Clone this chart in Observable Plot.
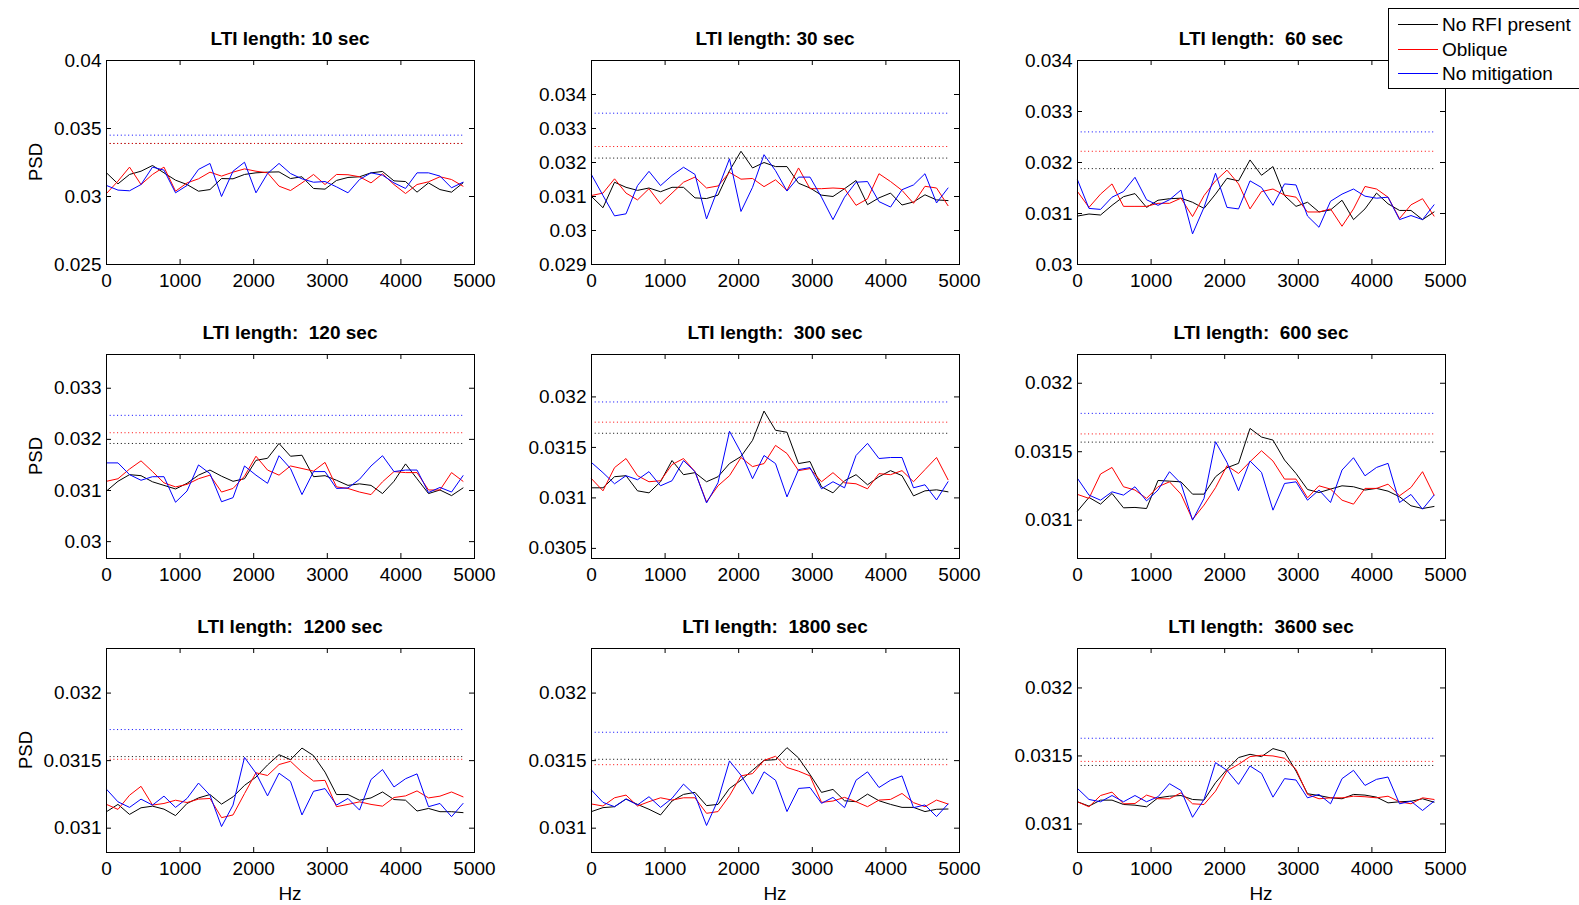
<!DOCTYPE html>
<html><head><meta charset="utf-8">
<script src="https://cdn.jsdelivr.net/npm/d3@7"></script>
<script src="https://cdn.jsdelivr.net/npm/@observablehq/plot@0.6"></script>
<style>
html,body{margin:0;padding:0;background:#fff;}
body{width:1579px;height:905px;overflow:hidden;position:relative;font-family:"Liberation Sans",Arial,Helvetica,sans-serif;color:#000;}
.abs{position:absolute;}
.title{font-weight:bold;font-size:19px;white-space:pre;transform:translate(-50%,-50%);line-height:1;}
.ylab{font-size:18.5px;transform:translate(-50%,-50%) rotate(-90deg);line-height:1;white-space:pre;}
.xlab{font-size:19px;transform:translate(-50%,-50%);line-height:1;}
#legend{left:1388px;top:8px;width:200px;height:79px;border:1px solid #000;background:#fff;z-index:10;}
#legend .sw{position:absolute;left:9px;width:40px;height:1px;}
#legend .lt{position:absolute;left:53px;font-size:19px;line-height:1;transform:translateY(-50%);white-space:pre;}
</style></head>
<body><div id="root"></div>
<script>
// frequency bins (Hz)
const hz = [0,156,313,469,625,781,938,1094,1250,1406,1563,1719,1875,2031,2188,2344,2500,2656,2813,2969,3125,3281,3438,3594,3750,3906,4063,4219,4375,4531,4688,4844];

const titles = ["LTI length: 10 sec","LTI length: 30 sec","LTI length:  60 sec","LTI length:  120 sec","LTI length:  300 sec","LTI length:  600 sec","LTI length:  1200 sec","LTI length:  1800 sec","LTI length:  3600 sec"];
const seriesNames = ["No RFI present","Oblique","No mitigation"];
const seriesColors = ["#000000","#ff0000","#0000ff"];

// 10 sec
const noRfi10 = [0.03174,0.03093,0.03162,0.03186,0.03228,0.03174,0.0312,0.03088,0.03039,0.03051,0.03132,0.0313,0.03162,0.03174,0.03179,0.03181,0.03132,0.03145,0.03059,0.03054,0.03118,0.0314,0.03145,0.03174,0.03184,0.03115,0.0311,0.03032,0.031,0.03051,0.03032,0.031];
const oblique10 = [0.03022,0.03113,0.03216,0.03088,0.03162,0.03216,0.03039,0.031,0.0313,0.03179,0.0315,0.03179,0.03203,0.03186,0.03174,0.03076,0.03044,0.031,0.03162,0.03088,0.03162,0.0316,0.03145,0.031,0.03167,0.03088,0.03022,0.03088,0.03108,0.03145,0.03125,0.03076];
const noMit10 = [0.03081,0.03047,0.03042,0.03088,0.03216,0.03194,0.03027,0.03081,0.03199,0.03243,0.03,0.03186,0.03252,0.03027,0.03169,0.03243,0.03169,0.0313,0.03105,0.0311,0.03071,0.03027,0.03125,0.03174,0.03157,0.031,0.03059,0.03174,0.03174,0.0315,0.03064,0.03105];
// 30 sec
const noRfi30 = [0.031,0.03067,0.03142,0.03127,0.03118,0.03125,0.03114,0.03127,0.03127,0.03096,0.03094,0.03104,0.03176,0.03233,0.03184,0.032,0.03188,0.03188,0.03139,0.03125,0.03104,0.031,0.03123,0.03147,0.03076,0.03096,0.0311,0.03075,0.03084,0.03105,0.0309,0.03088];
const oblique30 = [0.03103,0.0311,0.03152,0.0311,0.0309,0.03123,0.03078,0.0311,0.03142,0.03157,0.03125,0.03131,0.03171,0.03151,0.03153,0.03129,0.03149,0.03118,0.03184,0.03123,0.03123,0.03125,0.03123,0.03074,0.03093,0.03167,0.03144,0.03118,0.0308,0.0313,0.03125,0.03073];
const noMit30 = [0.03164,0.03103,0.03043,0.03049,0.03132,0.03174,0.03132,0.03162,0.03186,0.03165,0.03034,0.03123,0.03211,0.03056,0.03127,0.03223,0.03176,0.03116,0.03157,0.03157,0.03098,0.03032,0.03098,0.03142,0.03144,0.03085,0.03069,0.0312,0.03134,0.03167,0.03081,0.03125];
// 60 sec
const noRfi60 = [0.03095,0.03099,0.03097,0.03116,0.03133,0.03139,0.03112,0.03126,0.03129,0.0313,0.03122,0.0311,0.03138,0.03169,0.03164,0.03205,0.03175,0.03192,0.03135,0.03114,0.03122,0.03103,0.03107,0.03126,0.03088,0.03109,0.0314,0.03119,0.03106,0.03106,0.03088,0.03103];
const oblique60 = [0.03143,0.03112,0.03138,0.03158,0.03114,0.03114,0.03114,0.0312,0.0312,0.0313,0.03094,0.03135,0.03164,0.03185,0.03158,0.03109,0.03143,0.03148,0.03136,0.03132,0.03103,0.03103,0.03109,0.03075,0.03109,0.03153,0.03148,0.03132,0.0309,0.03117,0.03129,0.03095];
const noMit60 = [0.03166,0.0311,0.03108,0.03132,0.03143,0.03171,0.03127,0.03116,0.03127,0.03146,0.0306,0.03112,0.03179,0.03112,0.03109,0.03164,0.03151,0.03116,0.03158,0.03156,0.03095,0.03073,0.03124,0.03138,0.03148,0.03134,0.0313,0.03132,0.03088,0.03096,0.03088,0.03117];
// 120 sec
const noRfi120 = [0.03099,0.03118,0.03131,0.03129,0.03117,0.0311,0.03103,0.03114,0.0313,0.0314,0.03128,0.03118,0.03123,0.03159,0.03163,0.03192,0.03167,0.03169,0.03127,0.03129,0.0312,0.0311,0.03113,0.0311,0.03094,0.03118,0.03152,0.03123,0.03094,0.03101,0.0309,0.03105];
const oblique120 = [0.03118,0.03123,0.03142,0.03158,0.03137,0.03115,0.03107,0.03112,0.03123,0.0313,0.03097,0.03104,0.03128,0.03167,0.0314,0.0313,0.03148,0.03143,0.03138,0.03155,0.03107,0.03104,0.03097,0.03092,0.03117,0.03137,0.03135,0.03135,0.03101,0.03101,0.03135,0.03118];
const noMit120 = [0.03154,0.03154,0.03131,0.0312,0.03127,0.03127,0.03077,0.03099,0.0315,0.03133,0.03078,0.03086,0.03148,0.0313,0.03114,0.03168,0.03143,0.03092,0.03137,0.03137,0.03104,0.03105,0.03122,0.03148,0.03168,0.03137,0.0314,0.0314,0.03096,0.03106,0.03097,0.03129];
// 300 sec
const noRfi300 = [0.0311,0.0311,0.03121,0.03122,0.03107,0.03105,0.03116,0.03137,0.03123,0.03125,0.03116,0.03121,0.03134,0.03141,0.03157,0.03186,0.03167,0.03165,0.03134,0.03136,0.03111,0.03105,0.03117,0.03123,0.03113,0.03121,0.03127,0.03122,0.03102,0.03107,0.03108,0.03106];
const oblique300 = [0.03119,0.03107,0.0313,0.03139,0.03122,0.03116,0.03117,0.03133,0.03139,0.03126,0.03096,0.03112,0.03122,0.0314,0.03131,0.03134,0.03152,0.03144,0.03127,0.03129,0.03116,0.03125,0.03115,0.03114,0.03109,0.03124,0.03123,0.03127,0.03116,0.03128,0.0314,0.03118];
const noMit300 = [0.03135,0.03125,0.03114,0.03122,0.03118,0.03126,0.03112,0.03117,0.03137,0.03126,0.03095,0.03115,0.03166,0.03145,0.03119,0.03142,0.03134,0.03101,0.03128,0.0313,0.03109,0.03116,0.0311,0.03142,0.03154,0.03139,0.0314,0.0314,0.0311,0.03113,0.03098,0.03116];
// 600 sec
const noRfi600 = [0.031066,0.031166,0.031117,0.031195,0.03109,0.031093,0.031085,0.03129,0.031285,0.03128,0.03119,0.03119,0.031317,0.031383,0.031415,0.03167,0.031607,0.031585,0.031439,0.031341,0.031224,0.031202,0.031227,0.031251,0.031244,0.03122,0.031232,0.031212,0.031171,0.031105,0.031085,0.0311];
const oblique600 = [0.031188,0.031159,0.031337,0.031385,0.031244,0.03122,0.031159,0.031244,0.03128,0.03119,0.031005,0.03111,0.031237,0.031398,0.031341,0.031427,0.031507,0.031432,0.0313,0.0313,0.031163,0.031251,0.031227,0.031146,0.031117,0.031232,0.031232,0.031263,0.031178,0.031239,0.031354,0.031183];
const noMit600 = [0.031305,0.031183,0.031146,0.031207,0.031183,0.031244,0.031141,0.03122,0.031354,0.031268,0.031,0.031159,0.031573,0.031422,0.031215,0.031432,0.031349,0.031073,0.031268,0.03128,0.031146,0.03122,0.031129,0.031366,0.031456,0.031324,0.031385,0.031415,0.031129,0.031188,0.03108,0.031183];
// 1200 sec
const noRfi1200 = [0.031122,0.031176,0.031102,0.031151,0.031163,0.031141,0.031093,0.031183,0.031224,0.031249,0.031178,0.031232,0.031317,0.031378,0.031468,0.031544,0.031507,0.031593,0.031537,0.031415,0.031249,0.031249,0.031207,0.031224,0.031268,0.031212,0.031207,0.031127,0.031146,0.031122,0.031122,0.031115];
const oblique1200 = [0.031176,0.031139,0.031244,0.03131,0.031171,0.031183,0.031207,0.03119,0.031215,0.03122,0.031078,0.031098,0.031256,0.03141,0.03139,0.031471,0.031495,0.031415,0.031349,0.031354,0.031159,0.031176,0.031195,0.031176,0.031163,0.031227,0.031239,0.031276,0.031224,0.031237,0.031268,0.031232];
const noMit1200 = [0.031288,0.031195,0.031154,0.031215,0.031171,0.031237,0.031154,0.03122,0.031334,0.031244,0.031012,0.031171,0.031524,0.031407,0.031239,0.031407,0.031346,0.031098,0.031273,0.031293,0.031171,0.03122,0.031134,0.03136,0.031434,0.031305,0.031366,0.031402,0.031159,0.031183,0.031085,0.031183];
// 1800 sec
const noRfi1800 = [0.031123,0.031152,0.031159,0.031216,0.031176,0.03114,0.031098,0.031201,0.03125,0.031265,0.031167,0.031176,0.031294,0.031355,0.031429,0.031502,0.031507,0.031596,0.03152,0.031397,0.031265,0.031287,0.031203,0.031196,0.031252,0.031203,0.031176,0.031154,0.031154,0.031123,0.03114,0.031142];
const oblique1800 = [0.031179,0.031164,0.031225,0.031245,0.031164,0.031196,0.031225,0.031208,0.031225,0.031225,0.03111,0.031123,0.03124,0.031387,0.031404,0.031502,0.031532,0.031449,0.031422,0.031387,0.031191,0.031201,0.031228,0.031196,0.031159,0.031208,0.031213,0.031257,0.031189,0.031159,0.031208,0.031179];
const noMit1800 = [0.031282,0.031191,0.031159,0.031216,0.031172,0.031233,0.031154,0.031221,0.031326,0.031245,0.03102,0.031208,0.031498,0.031392,0.031252,0.031417,0.031355,0.031123,0.031294,0.031301,0.031184,0.031228,0.031152,0.031355,0.031417,0.031301,0.031355,0.031387,0.031152,0.031172,0.031086,0.031179];
// 3600 sec
const noRfi3600 = [0.031163,0.031131,0.031175,0.031175,0.031143,0.031138,0.031126,0.031192,0.031204,0.031209,0.03118,0.031175,0.031303,0.031401,0.031488,0.031512,0.031495,0.031554,0.03153,0.031389,0.031222,0.031209,0.031192,0.031185,0.031217,0.031212,0.031197,0.031155,0.031163,0.031167,0.031185,0.03116];
const oblique3600 = [0.031163,0.031126,0.031209,0.031234,0.031148,0.03115,0.031212,0.031185,0.031185,0.031229,0.031148,0.031143,0.031241,0.031389,0.031438,0.031495,0.031505,0.0315,0.031483,0.031401,0.031217,0.031185,0.031192,0.031192,0.031204,0.0312,0.031192,0.031204,0.031163,0.031148,0.031192,0.03118];
const noMit3600 = [0.031261,0.03118,0.031163,0.031209,0.031163,0.031209,0.031163,0.0312,0.031296,0.031246,0.031049,0.03118,0.031451,0.031394,0.031291,0.031426,0.031372,0.031197,0.031333,0.031323,0.031192,0.031217,0.031148,0.031333,0.031394,0.031283,0.031328,0.031345,0.031148,0.031167,0.031099,0.031167];

// threshold (dotted) levels per panel
const thrNoRfi = [0.0339,0.03213,0.03188,0.03192,0.03164,0.03157,0.03153,0.03151,0.03143];
const thrOblique = [0.0339,0.03247,0.03222,0.03213,0.03175,0.03163,0.03151,0.03147,0.03146];
const thrNoMit = [0.03451,0.03345,0.0326,0.03247,0.03195,0.03178,0.03173,0.03171,0.03163];

// axes
const yMin = [0.025,0.029,0.030,0.02967,0.0304,0.03072,0.03082,0.03082,0.03079];
const yMax = [0.040,0.035,0.034,0.03366,0.03242,0.03221,0.03233,0.03233,0.03229];
const yTicks = [
  [0.025,0.03,0.035,0.04],
  [0.029,0.03,0.031,0.032,0.033,0.034],
  [0.03,0.031,0.032,0.033,0.034],
  [0.03,0.031,0.032,0.033],
  [0.0305,0.031,0.0315,0.032],
  [0.031,0.0315,0.032],
  [0.031,0.0315,0.032],
  [0.031,0.0315,0.032],
  [0.031,0.0315,0.032]
];
const xTicks = [0,1000,2000,3000,4000,5000];

const lineData = [
  [noRfi10,noRfi30,noRfi60,noRfi120,noRfi300,noRfi600,noRfi1200,noRfi1800,noRfi3600],
  [oblique10,oblique30,oblique60,oblique120,oblique300,oblique600,oblique1200,oblique1800,oblique3600],
  [noMit10,noMit30,noMit60,noMit120,noMit300,noMit600,noMit1200,noMit1800,noMit3600]
];
const thrData = [thrNoRfi, thrOblique, thrNoMit];

const FONT = '"Liberation Sans", Arial, Helvetica, sans-serif';
const colLeft = [106,591,1077], rowTop = [60,354,648], PW = 368, PH = 204;
const ML = 80, MR = 20, MT = 10, MB = 40;

function addDiv(cls, text, x, y){
  const d = document.createElement("div");
  d.className = "abs " + cls;
  d.textContent = text;
  d.style.left = x + "px"; d.style.top = y + "px";
  document.body.appendChild(d);
  return d;
}

for (let i = 0; i < 9; i++){
  const r = Math.floor(i/3), c = i % 3;
  const marks = [];
  for (let s = 0; s < 3; s++){
    marks.push(Plot.ruleY([{y: thrData[s][i], x1: hz[0], x2: hz[hz.length-1]}],
      {y: "y", x1: "x1", x2: "x2", stroke: seriesColors[s], strokeWidth: 1, strokeDasharray: "1,2.7"}));
  }
  for (let s = 0; s < 3; s++){
    const rows = hz.map((h,k) => ({hz: h, v: lineData[s][i][k]})).filter(d => d.v != null);
    marks.push(Plot.line(rows, {x: "hz", y: "v", stroke: seriesColors[s], strokeWidth: 1}));
  }
  const yt = yTicks[i];
  // inward ticks on all four sides
  marks.push(Plot.tickY(yt, {y: d => d, insetRight: PW - 5, stroke: "#000"}));
  marks.push(Plot.tickY(yt, {y: d => d, insetLeft: PW - 5, stroke: "#000"}));
  marks.push(Plot.tickX(xTicks, {x: d => d, insetTop: PH - 5, stroke: "#000"}));
  marks.push(Plot.tickX(xTicks, {x: d => d, insetBottom: PH - 5, stroke: "#000"}));
  marks.push(Plot.frame({stroke: "#000", strokeWidth: 1}));
  marks.push(Plot.axisX(xTicks, {tickSize: 0, tickPadding: 9, tickFormat: d => String(d), label: null}));
  marks.push(Plot.axisY(yt, {tickSize: 0, tickPadding: 5, tickFormat: d => String(d), label: null}));

  const svg = Plot.plot({
    width: ML + PW + MR, height: MT + PH + MB,
    marginLeft: ML, marginRight: MR, marginTop: MT, marginBottom: MB,
    x: {domain: [0, 5000], label: null},
    y: {domain: [yMin[i], yMax[i]], label: null},
    style: {fontFamily: FONT, fontSize: "19px", background: "transparent", overflow: "visible", color: "#000"},
    marks
  });
  svg.style.position = "absolute";
  svg.style.left = (colLeft[c] - ML) + "px";
  svg.style.top = (rowTop[r] - MT) + "px";
  document.body.appendChild(svg);

  addDiv("title", titles[i], colLeft[c] + PW/2, rowTop[r] - 22);
  if (c === 0) addDiv("ylab", "PSD", r === 2 ? 26 : 36, rowTop[r] + PH/2);
  if (r === 2) addDiv("xlab", "Hz", colLeft[c] + PW/2, 893);
}

// legend
const leg = document.createElement("div");
leg.id = "legend"; leg.className = "abs";
const legY = [14.5, 39.5, 63.5];
seriesNames.forEach((n, s) => {
  const sw = document.createElement("div");
  sw.className = "sw"; sw.style.top = legY[s] + "px"; sw.style.background = seriesColors[s];
  leg.appendChild(sw);
  const t = document.createElement("div");
  t.className = "lt"; t.style.top = (legY[s] + 0.5) + "px"; t.textContent = n;
  leg.appendChild(t);
});
document.body.appendChild(leg);
</script>
</body></html>
